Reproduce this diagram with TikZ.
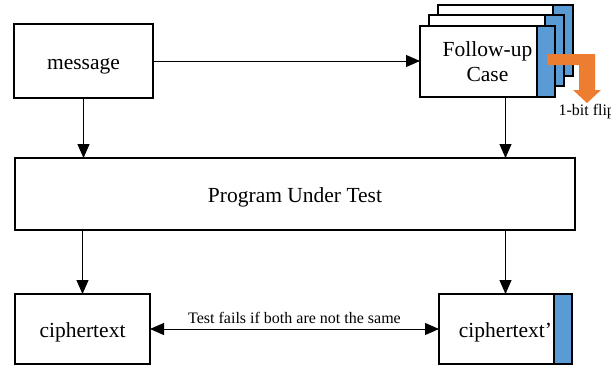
\documentclass[tikz,border=0pt]{standalone}
\usepackage{fontspec}
\setmainfont{Liberation Serif}
\usetikzlibrary{arrows.meta}
\definecolor{stripeblue}{RGB}{91,155,213}
\definecolor{fliporange}{RGB}{237,125,49}

\begin{document}
\begin{tikzpicture}[x=1pt, y=-1pt,
    >={Triangle[length=14pt, width=12pt]},
    box/.style={rectangle, draw, line width=2.5pt, fill=white, outer sep=0pt, align=center, font=\fontsize{21.5}{25}\selectfont},
    oneline/.style={box, text height=20pt, text depth=3.5pt},
    stripe/.style={draw, line width=2.5pt, fill=stripeblue},
    flow/.style={->, line width=1pt},
    small/.style={font=\fontsize{16}{18}\selectfont}]
    \useasboundingbox (0,0) rectangle (611,367);

    % Inputs
    \node[oneline, minimum width=139pt, minimum height=74pt] (MSG) at (83.5,61) {message};
    \node[box, minimum width=135pt, minimum height=71pt] (CARDB) at (505.5,40.5) {};
    \draw[stripe] ([xshift=-20pt]CARDB.north east) rectangle (CARDB.south east);
    \node[box, minimum width=135pt, minimum height=71pt] (CARDA) at (496.5,50.5) {};
    \draw[stripe] ([xshift=-19pt]CARDA.north east) rectangle (CARDA.south east);
    \node[box, minimum width=135pt, minimum height=71pt] (FOLLOW) at (487.5,61.5) {Follow-up\\Case};
    \draw[stripe] ([xshift=-18pt]FOLLOW.north east) rectangle (FOLLOW.south east);

    % Bit flip
    \fill[fliporange] (547,54) -- (595,54) -- (595,90) -- (601,90) -- (587,103)
        -- (573,90) -- (579,90) -- (579,65) -- (547,65) -- cycle;
    \node[small, anchor=west] (FLIP) at (555,112) {1-bit flip};

    % Program
    \node[oneline, minimum width=560pt, minimum height=72pt] (PUT) at (295,194) {Program Under Test};

    % Outputs
    \node[oneline, minimum width=135pt, minimum height=70pt] (CT) at (82.5,329) {ciphertext};
    \node[oneline, minimum width=133pt, minimum height=70pt] (CTF) at (505.5,329) {ciphertext'};
    \draw[stripe] ([xshift=-18pt]CTF.north east) rectangle (CTF.south east);

    % Connections
    \draw[flow] (MSG.east) -- (MSG.east -| FOLLOW.west);
    \draw[flow] (MSG.south) -- (MSG.south |- PUT.north);
    \draw[flow] (CTF |- FOLLOW.south) -- (CTF |- PUT.north);
    \draw[flow] (CT |- PUT.south) -- (CT.north);
    \draw[flow] (CTF |- PUT.south) -- (CTF.north);
    \draw[<->, line width=1pt] (CT.east) -- node[small, above=2pt] {Test fails if both are not the same} (CTF.west);
\end{tikzpicture}
\end{document}
